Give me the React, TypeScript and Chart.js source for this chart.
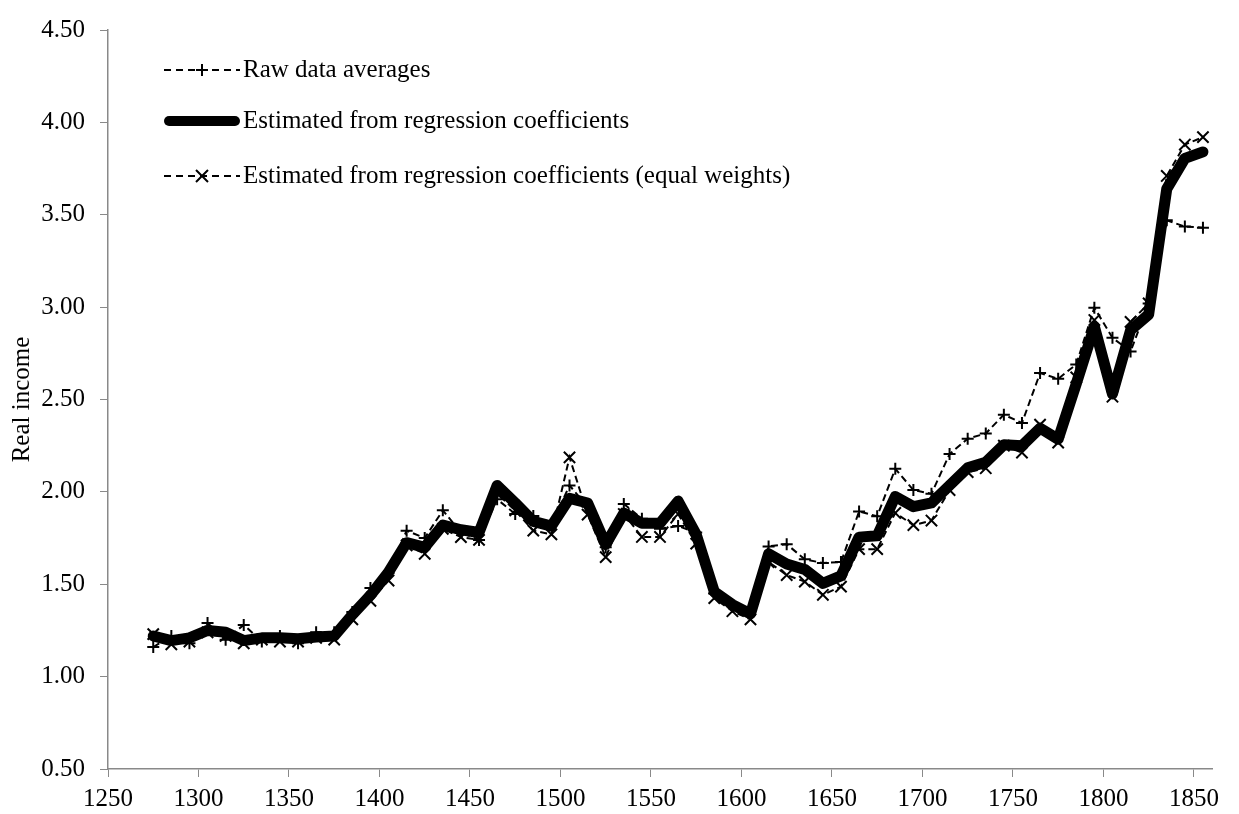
import React, { useEffect, useRef } from "react";
import { Chart, registerables } from "chart.js";

Chart.register(...registerables);

const FONT = '"Liberation Serif", "Times New Roman", serif';

const years = [
  1275, 1285, 1295, 1305, 1315, 1325, 1335, 1345, 1355, 1365,
  1375, 1385, 1395, 1405, 1415, 1425, 1435, 1445, 1455, 1465,
  1475, 1485, 1495, 1505, 1515, 1525, 1535, 1545, 1555, 1565,
  1575, 1585, 1595, 1605, 1615, 1625, 1635, 1645, 1655, 1665,
  1675, 1685, 1695, 1705, 1715, 1725, 1735, 1745, 1755, 1765,
  1775, 1785, 1795, 1805, 1815, 1825, 1835, 1845, 1855,
];

const rawAverages = [
  1.16, 1.22, 1.18, 1.29, 1.2, 1.28, 1.19, 1.22, 1.18, 1.24,
  1.24, 1.35, 1.48, 1.56, 1.79, 1.75, 1.9, 1.78, 1.74, 1.96,
  1.88, 1.87, 1.82, 2.035, 1.92, 1.7, 1.935, 1.855, 1.8, 1.815,
  1.78, 1.45, 1.38, 1.37, 1.705, 1.717, 1.635, 1.615, 1.62, 1.894,
  1.868, 2.125, 2.01, 1.99, 2.205, 2.288, 2.316, 2.418, 2.373, 2.643,
  2.612, 2.69, 2.997, 2.834, 2.76, 3.02, 3.47, 3.436, 3.43,
];

const regression = [
  1.22, 1.195, 1.21, 1.25, 1.24, 1.195, 1.21, 1.21, 1.205, 1.215,
  1.22, 1.335, 1.44, 1.565, 1.725, 1.7, 1.82, 1.795, 1.78, 2.035,
  1.94, 1.84, 1.815, 1.965, 1.94, 1.715, 1.885, 1.83, 1.83, 1.95,
  1.77, 1.46, 1.39, 1.34, 1.665, 1.61, 1.58, 1.505, 1.545, 1.755,
  1.762, 1.975, 1.92, 1.94, 2.035, 2.13, 2.16, 2.255, 2.25, 2.345,
  2.285, 2.585, 2.895, 2.53, 2.875, 2.96, 3.64, 3.805, 3.84,
];

const equalWeights = [
  1.23, 1.175, 1.19, 1.24, 1.22, 1.18, 1.2, 1.19, 1.19, 1.21,
  1.2, 1.31, 1.41, 1.52, 1.71, 1.665, 1.8, 1.755, 1.74, 1.99,
  1.9, 1.79, 1.77, 2.187, 1.877, 1.647, 1.88, 1.756, 1.756, 1.88,
  1.72, 1.425, 1.354, 1.31, 1.62, 1.55, 1.514, 1.443, 1.487, 1.69,
  1.69, 1.886, 1.82, 1.845, 2.01, 2.107, 2.128, 2.25, 2.213, 2.364,
  2.267, 2.62, 2.93, 2.515, 2.92, 3.02, 3.71, 3.88, 3.92,
];

const xTickValues = [1250, 1300, 1350, 1400, 1450, 1500, 1550, 1600, 1650, 1700, 1750, 1800, 1850];
const yTickValues = [0.5, 1.0, 1.5, 2.0, 2.5, 3.0, 3.5, 4.0, 4.5];

const seriesLabels = [
  "Raw data averages",
  "Estimated from regression coefficients",
  "Estimated from regression coefficients (equal weights)",
];

const AXIS_COLOR = "#898989";

function toPoints(vals: number[]) {
  return years.map((y, i) => ({ x: y, y: vals[i] }));
}

function drawMarker(ctx: CanvasRenderingContext2D, kind: string, x: number, y: number) {
  ctx.save();
  ctx.setLineDash([]);
  ctx.lineWidth = 2;
  ctx.strokeStyle = "#000";
  ctx.beginPath();
  if (kind === "cross") {
    const r = 6;
    ctx.moveTo(x - r, y);
    ctx.lineTo(x + r, y);
    ctx.moveTo(x, y - r);
    ctx.lineTo(x, y + r);
  } else {
    const r = 6;
    ctx.moveTo(x - r, y - r);
    ctx.lineTo(x + r, y + r);
    ctx.moveTo(x - r, y + r);
    ctx.lineTo(x + r, y - r);
  }
  ctx.stroke();
  ctx.restore();
}

const legendPlugin = {
  id: "customLegend",
  afterDraw(chart: any) {
    const ctx: CanvasRenderingContext2D = chart.ctx;
    const x0 = 164;
    const x1 = 240;
    const tx = 243;
    const rows = [70, 121, 176];
    const kinds = ["cross", "thick", "crossRot"];
    ctx.save();
    kinds.forEach((kind, i) => {
      const y = rows[i];
      ctx.strokeStyle = "#000";
      if (kind === "thick") {
        ctx.setLineDash([]);
        ctx.lineWidth = 10;
        ctx.lineCap = "round";
        ctx.beginPath();
        ctx.moveTo(x0 + 5, y);
        ctx.lineTo(x1 - 5, y);
        ctx.stroke();
      } else {
        ctx.setLineDash([7, 5]);
        ctx.lineWidth = 2;
        ctx.lineCap = "butt";
        ctx.beginPath();
        ctx.moveTo(x0, y);
        ctx.lineTo(x1, y);
        ctx.stroke();
        drawMarker(ctx, kind, (x0 + x1) / 2, y);
      }
      ctx.setLineDash([]);
      ctx.fillStyle = "#000";
      ctx.font = `25px ${FONT}`;
      ctx.textAlign = "left";
      ctx.textBaseline = "middle";
      ctx.fillText(seriesLabels[i], tx, y);
    });
    ctx.restore();
  },
};

export default function App() {
  const canvasRef = useRef<HTMLCanvasElement | null>(null);

  useEffect(() => {
    document.body.style.margin = "0";
    const canvas = canvasRef.current;
    if (!canvas) return;
    const chart = new Chart(canvas, {
      type: "line",
      data: {
        datasets: [
          {
            label: seriesLabels[2],
            data: toPoints(equalWeights),
            borderColor: "#000",
            backgroundColor: "#000",
            borderWidth: 2,
            borderDash: [7, 4],
            pointStyle: "crossRot",
            pointRadius: 8,
            pointBorderWidth: 2,
            pointBorderColor: "#000",
            fill: false,
            tension: 0,
          },
          {
            label: seriesLabels[1],
            data: toPoints(regression),
            borderColor: "#000",
            backgroundColor: "#000",
            borderWidth: 11,
            borderJoinStyle: "round",
            borderCapStyle: "round",
            pointRadius: 0,
            fill: false,
            tension: 0,
          },
          {
            label: seriesLabels[0],
            data: toPoints(rawAverages),
            borderColor: "#000",
            backgroundColor: "#000",
            borderWidth: 2,
            borderDash: [7, 4],
            pointStyle: "cross",
            pointRadius: 6,
            pointBorderWidth: 2,
            pointBorderColor: "#000",
            fill: false,
            tension: 0,
          },
        ],
      },
      options: {
        animation: false,
        responsive: true,
        maintainAspectRatio: false,
        layout: { padding: { top: 16, right: 27, left: 0, bottom: 0 } },
        plugins: {
          legend: { display: false },
          tooltip: { enabled: false },
        },
        scales: {
          x: {
            type: "linear",
            min: 1250,
            max: 1860,
            afterBuildTicks: (s: any) => {
              s.ticks = xTickValues.map((v) => ({ value: v }));
            },
            afterFit: (s: any) => {
              s.height = 45;
            },
            ticks: {
              color: "#000",
              font: { family: FONT, size: 25 },
              padding: 7,
              maxRotation: 0,
              autoSkip: false,
              callback: (v: any) => String(v),
            },
            grid: {
              drawOnChartArea: false,
              drawTicks: true,
              tickLength: 8,
              color: AXIS_COLOR,
              tickColor: AXIS_COLOR,
            },
            border: { color: AXIS_COLOR, width: 1.5 },
          },
          y: {
            type: "linear",
            min: 0.5,
            max: 4.5,
            afterBuildTicks: (s: any) => {
              s.ticks = yTickValues.map((v) => ({ value: v }));
            },
            afterFit: (s: any) => {
              s.width = 108;
            },
            ticks: {
              color: "#000",
              font: { family: FONT, size: 25 },
              padding: 15,
              callback: (v: any) => Number(v).toFixed(2),
            },
            grid: {
              drawOnChartArea: false,
              drawTicks: true,
              tickLength: 8,
              color: AXIS_COLOR,
              tickColor: AXIS_COLOR,
            },
            border: { color: AXIS_COLOR, width: 1.5 },
            title: {
              display: true,
              text: "Real income",
              color: "#000",
              font: { family: FONT, size: 25 },
              padding: { top: 7, bottom: 0 },
            },
          },
        },
      },
      plugins: [legendPlugin],
    });
    return () => chart.destroy();
  }, []);

  return (
    <div style={{ width: 1239, height: 814, position: "relative" }}>
      <canvas ref={canvasRef} />
    </div>
  );
}
